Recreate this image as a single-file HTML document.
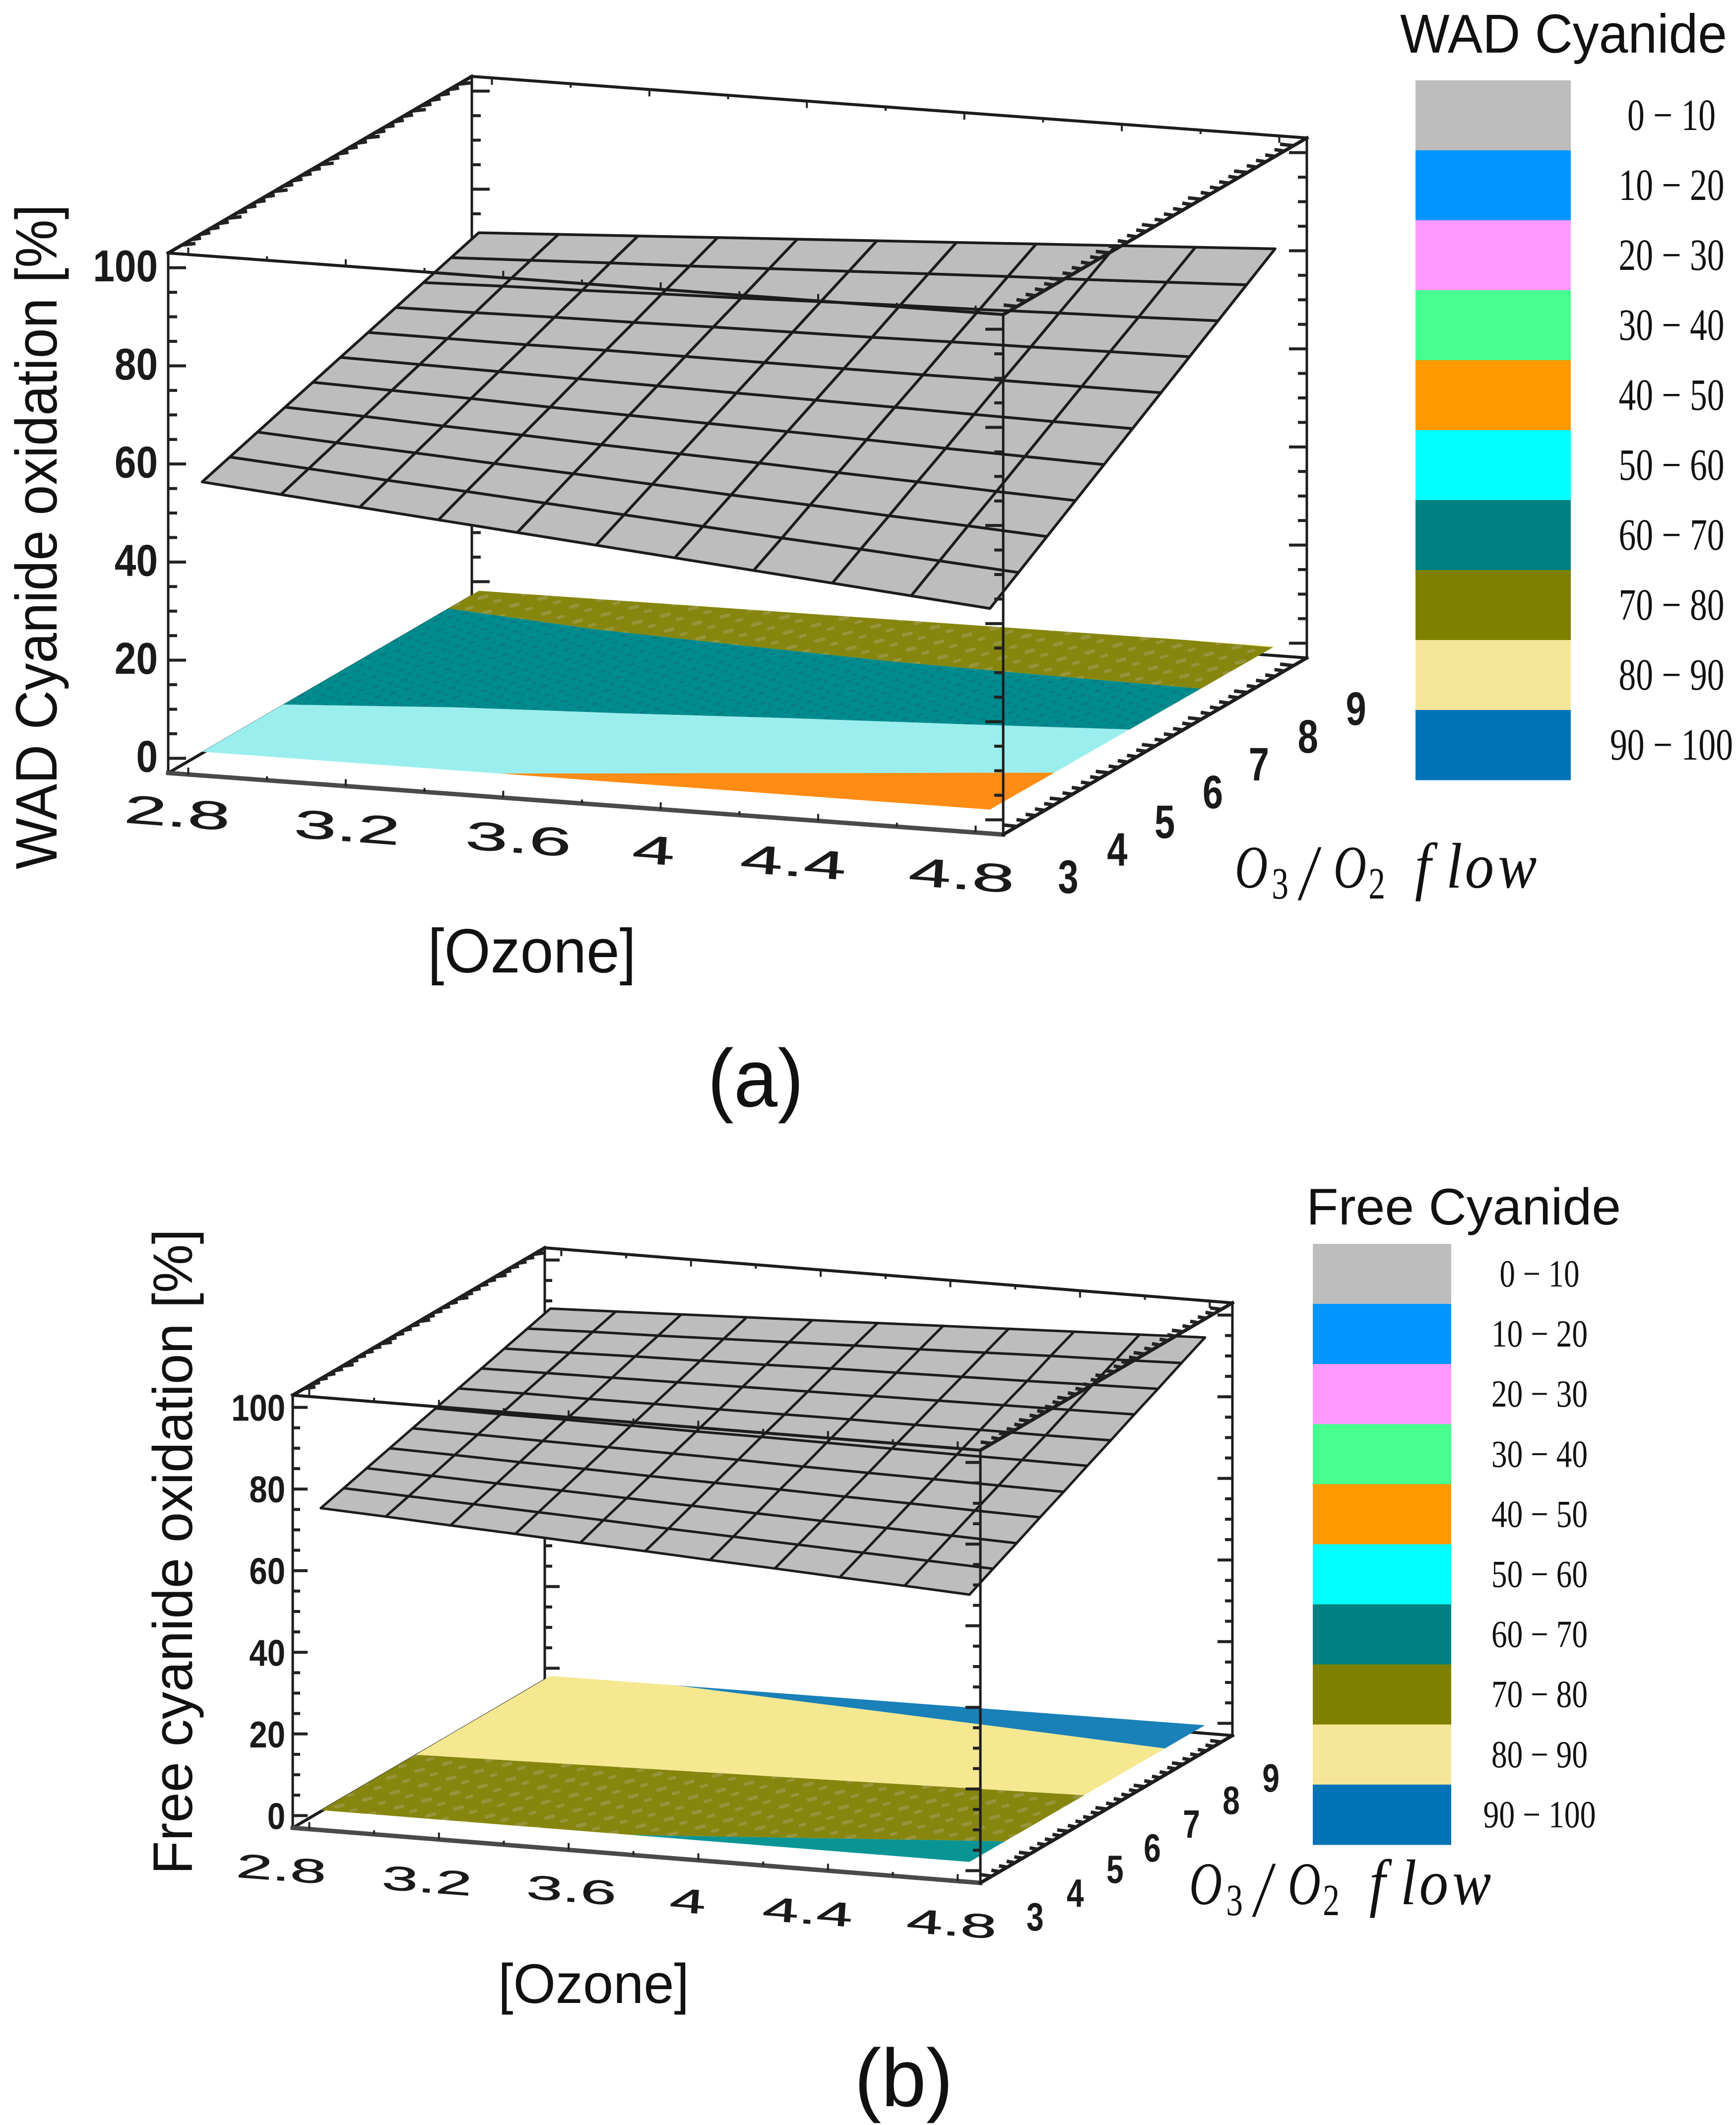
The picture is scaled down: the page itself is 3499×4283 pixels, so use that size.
<!DOCTYPE html>
<html lang="en">
<head>
<meta charset="utf-8">
<title>WAD and free cyanide oxidation surfaces</title>
<style>
html,body{margin:0;padding:0;background:#fff;}
svg{display:block;font-family:"Liberation Sans",sans-serif;}
</style>
</head>
<body>
<svg id="figure" width="3499" height="4283" viewBox="0 0 3499 4283">
  <defs>
    <pattern id="olive-tex" width="58" height="31" patternUnits="userSpaceOnUse" patternTransform="rotate(-14)">
      <rect width="58" height="31" fill="#86860f"/>
      <rect x="4" y="5" width="22" height="7" rx="3" fill="#97943c"/>
      <rect x="33" y="20" width="17" height="6" rx="3" fill="#97943c"/>
    </pattern>
    <pattern id="teal-tex" width="30" height="20" patternUnits="userSpaceOnUse" patternTransform="rotate(-14)">
      <rect width="30" height="20" fill="#008c8f"/>
      <rect x="3" y="4" width="14" height="5" rx="2" fill="#0a7c84"/>
      <rect x="18" y="14" width="9" height="4" rx="2" fill="#0a7c84"/>
    </pattern>
  </defs>
  <g id="chart-a"></g>
  <g id="chart-b"></g>

  <text transform="translate(114,1752) rotate(-90)" font-size="118" fill="#111" textLength="1340" lengthAdjust="spacingAndGlyphs">WAD Cyanide oxidation [%]</text>
  <text transform="translate(387,3778) rotate(-90)" font-size="112" fill="#111" textLength="1301" lengthAdjust="spacingAndGlyphs">Free cyanide oxidation [%]</text>

  <text x="862" y="1960" font-size="125" fill="#111" textLength="420" lengthAdjust="spacingAndGlyphs">[Ozone]</text>
  <text x="1004" y="4037" font-size="112" fill="#111" textLength="385" lengthAdjust="spacingAndGlyphs">[Ozone]</text>

  <g font-family="'Liberation Serif',serif" font-style="italic" fill="#111">
    <text transform="translate(2489,1789) scale(.75,1)" font-size="122"><tspan x="0">O</tspan><tspan x="99" dy="22" font-size="90" font-style="normal">3</tspan><tspan x="176" dy="2" font-size="160">/</tspan><tspan x="265" dy="-24">O</tspan><tspan x="359" dy="22" font-size="90" font-style="normal">2</tspan></text>
    <text transform="translate(2841,1789) scale(.9,1)" font-size="130"><tspan x="12">f</tspan><tspan x="82">l</tspan><tspan x="124">o</tspan><tspan x="198">w</tspan></text>
  </g>
  <g font-family="'Liberation Serif',serif" font-style="italic" fill="#111">
    <text transform="translate(2397,3838) scale(.75,1)" font-size="122"><tspan x="0">O</tspan><tspan x="99" dy="22" font-size="90" font-style="normal">3</tspan><tspan x="176" dy="2" font-size="160">/</tspan><tspan x="265" dy="-24">O</tspan><tspan x="359" dy="22" font-size="90" font-style="normal">2</tspan></text>
    <text transform="translate(2749,3838) scale(.9,1)" font-size="130"><tspan x="12">f</tspan><tspan x="82">l</tspan><tspan x="124">o</tspan><tspan x="198">w</tspan></text>
  </g>

  <text x="1426" y="2230" font-size="165" fill="#111" textLength="194" lengthAdjust="spacingAndGlyphs">(a)</text>
  <text x="1722" y="4245" font-size="165" fill="#111" textLength="199" lengthAdjust="spacingAndGlyphs">(b)</text>

  <text x="2822" y="106" font-size="110" fill="#111" textLength="659" lengthAdjust="spacingAndGlyphs">WAD Cyanide</text>
  <text x="2633" y="2468" font-size="104" fill="#111" textLength="634" lengthAdjust="spacingAndGlyphs">Free Cyanide</text>
  <g id="legend-a"></g>
  <g id="legend-b"></g>
</svg>

<script>
// ---------- shared axis values ----------
const ozoneTicks = [2.8, 3.2, 3.6, 4, 4.4, 4.8];
const flowTicks = [3, 4, 5, 6, 7, 8, 9];
const zTicks = [0, 20, 40, 60, 80, 100];
const ozoneGrid = [2.8, 3.0, 3.2, 3.4, 3.6, 3.8, 4.0, 4.2, 4.4, 4.6, 4.8];
const flowGrid = [3, 3.6, 4.2, 4.8, 5.4, 6, 6.6, 7.2, 7.8, 8.4, 9];
const legendLabels = ['0 \u2212 10', '10 \u2212 20', '20 \u2212 30', '30 \u2212 40', '40 \u2212 50', '50 \u2212 60', '60 \u2212 70', '70 \u2212 80', '80 \u2212 90', '90 \u2212 100'];
const legendColors = ['#bdbdbd', '#0095ff', '#ff99ff', '#47ff8f', '#ff9900', '#00ffff', '#008080', '#808000', '#f5e69a', '#0073b7'];

// ---------- WAD cyanide surface: oxidation % per flow row (rows) and ozone column ----------
const wadSurface = [
  [55, 53.6, 52.2, 50.8, 49.4, 48, 46.6, 45.2, 43.8, 42.4, 41],
  [56.8, 55.6, 54.4, 53.3, 52.1, 50.9, 49.7, 48.5, 47.4, 46.2, 45],
  [58.6, 57.6, 56.7, 55.7, 54.8, 53.8, 52.8, 51.9, 50.9, 50, 49],
  [60.4, 59.7, 58.9, 58.2, 57.4, 56.7, 56, 55.2, 54.5, 53.7, 53],
  [62.2, 61.7, 61.2, 60.6, 60.1, 59.6, 59.1, 58.6, 58, 57.5, 57],
  [64, 63.7, 63.4, 63.1, 62.8, 62.5, 62.2, 61.9, 61.6, 61.3, 61],
  [65.8, 65.7, 65.6, 65.6, 65.5, 65.4, 65.3, 65.2, 65.2, 65.1, 65],
  [67.6, 67.7, 67.9, 68, 68.2, 68.3, 68.4, 68.6, 68.7, 68.9, 69],
  [69.4, 69.8, 70.1, 70.5, 70.8, 71.2, 71.6, 71.9, 72.3, 72.6, 73],
  [71.2, 71.8, 72.4, 72.9, 73.5, 74.1, 74.7, 75.3, 75.8, 76.4, 77],
  [73, 73.8, 74.6, 75.4, 76.2, 77, 77.8, 78.6, 79.4, 80.2, 81]
];
// WAD contour floor: flow value of each band's upper limit at each ozone tick
const wadOrangeTop = [2.17, 2.6, 3.05, 3.49, 3.92, 4.36];
const wadCyanTop = [4.76, 5.08, 5.28, 5.52, 5.72, 5.94];
const wadTealTop = [8.34, 8.0, 7.8, 7.62, 7.52, 7.44];
const wadOliveTop = [9.3, 9.2, 9.15, 9.1, 9.03, 8.96];
const wadPaleTop = [9.4, 9.4, 9.4, 9.4, 9.4, 9.4];

// ---------- Free cyanide surface ----------
const freeSurface = [
  [74, 73.2, 72.3, 71.5, 70.6, 69.8, 68.9, 68.1, 67.2, 66.4, 65.5],
  [75.6, 74.9, 74.2, 73.5, 72.8, 72, 71.3, 70.6, 69.9, 69.2, 68.5],
  [77.2, 76.6, 76, 75.5, 74.9, 74.3, 73.7, 73.1, 72.6, 72, 71.4],
  [78.8, 78.4, 77.9, 77.5, 77, 76.6, 76.2, 75.7, 75.3, 74.8, 74.4],
  [80.4, 80.1, 79.8, 79.5, 79.2, 78.9, 78.5, 78.2, 77.9, 77.6, 77.3],
  [82, 81.8, 81.7, 81.5, 81.3, 81.2, 81, 80.8, 80.6, 80.5, 80.3],
  [83.6, 83.6, 83.5, 83.5, 83.4, 83.4, 83.4, 83.3, 83.3, 83.2, 83.2],
  [85.2, 85.3, 85.4, 85.5, 85.6, 85.7, 85.8, 85.9, 86, 86.1, 86.2],
  [86.8, 87, 87.3, 87.5, 87.7, 88, 88.2, 88.4, 88.6, 88.9, 89.1],
  [88.4, 88.8, 89.1, 89.5, 89.9, 90.3, 90.6, 91, 91.4, 91.7, 92.1],
  [90, 90.5, 91, 91.5, 92, 92.5, 93, 93.5, 94, 94.5, 95]
];
const freeTealTop = [2.18, 2.52, 2.87, 3.21, 3.56, 3.91];
const freeOliveTop = [5.48, 5.57, 5.66, 5.75, 5.84, 5.93];
const freeYellowTop = [9.24, 8.99, 8.74, 8.49, 8.24, 7.98];
const freeBlueTop = [9.4, 9.4, 9.4, 9.4, 9.4, 9.4];

// ---------- axis ranges of the plotted box ----------
const ozoneMin = 2.749, ozoneMax = 4.87;
const flowMin = 2.699, flowMax = 9.29;
const zMin = -3, zMax = 103;

const SVG_NS = 'http://www.w3.org/2000/svg';
function mk(parent, tag, attrs, text) {
  const el = document.createElementNS(SVG_NS, tag);
  for (const k in attrs) el.setAttribute(k, attrs[k]);
  if (text !== undefined) el.textContent = text;
  parent.appendChild(el);
  return el;
}

function drawChart(root, geo, surface, bands) {
  // axis function: data coordinates to page pixels
  const project = (oz, fl, z) => {
    const a = (oz - ozoneMin) / (ozoneMax - ozoneMin);
    const b = (fl - flowMin) / (flowMax - flowMin);
    const c = (z - zMin) / (zMax - zMin);
    return [geo.x0 + a * geo.xv[0] + b * geo.yv[0], geo.y0 + a * geo.xv[1] + b * geo.yv[1] - c * geo.h];
  };
  // data marks follow the same axes, with the slight perspective pull seen at the far corner
  const plot = (oz, fl, z) => {
    const p = project(oz, fl, z);
    const a = (oz - ozoneMin) / (ozoneMax - ozoneMin);
    const b = (fl - flowMin) / (flowMax - flowMin);
    return [p[0] + geo.pull[0] * a * b, p[1] + geo.pull[1] * a * b];
  };
  const pts = list => list.map(p => p[0].toFixed(1) + ',' + p[1].toFixed(1)).join(' ');
  const edge = (parent, p, q, w, col) => {
    const l = mk(parent, 'line', {x1: p[0], y1: p[1], x2: q[0], y2: q[1], stroke: col || '#1c1c1c', 'stroke-width': w, 'stroke-linecap': 'square'});
    
    
    return l;
  };
  const tick = (parent, p, dx, dy, w) => {
    const l = mk(parent, 'line', {x1: p[0], y1: p[1], x2: p[0] + dx, y2: p[1] + dy, stroke: '#222', 'stroke-width': w});
    
    
  };
  const zTickSet = (parent, oz, fl, dir) => {
    for (let z = 0; z <= 100; z += 5) {
      const major = z % 20 === 0;
      tick(parent, project(oz, fl, z), dir * (major ? geo.tick : geo.tick * .5), 0, 6);
    }
  };
  const flowTickSet = (parent, oz, z, dir) => {
    for (let i = 0; i <= 30; i++) {
      const f = 3 + i * .2;
      const major = i % 5 === 0;
      tick(parent, project(oz, f, z), dir * (major ? geo.tick * .75 : geo.tick * .55), -3, 7);
    }
  };
  const ozoneTickSet = (parent, fl, z, dir) => {
    for (let i = 0; i <= 20; i += 2) {
      const o = 2.8 + i * .1;
      tick(parent, project(o, fl, z), 0, dir * (i % 4 === 0 ? 14 : 8), 4);
    }
  };

  const back = mk(root, 'g', {});
  
  
  edge(back, project(ozoneMin, flowMax, zMin), project(ozoneMin, flowMax, zMax), 5);
  edge(back, project(ozoneMin, flowMin, zMax), project(ozoneMin, flowMax, zMax), 7);
  edge(back, project(ozoneMin, flowMax, zMax), project(ozoneMax, flowMax, zMax), 6);
  edge(back, project(ozoneMax, flowMax, zMin), project(ozoneMax, flowMax, zMax), 5);
  edge(back, project(ozoneMin, flowMin, zMin), project(ozoneMin, flowMax, zMin), 6);
  edge(back, project(ozoneMin, flowMax, zMin), project(ozoneMax, flowMax, zMin), 6);
  zTickSet(back, ozoneMin, flowMax, 1);
  zTickSet(back, ozoneMax, flowMax, -1);
  flowTickSet(back, ozoneMin, zMax, 1);
  ozoneTickSet(back, flowMax, zMax, 1);

  // contour floor
  const floor = mk(root, 'g', {});
  
  
  const clip = mk(floor, 'clipPath', {id: geo.id + '-floor-clip'});
  mk(clip, 'polygon', {points: pts([plot(2.8, 3, 0), plot(4.8, 3, 0), plot(4.8, 9, 0), plot(2.8, 9, 0)])});
  const bandGroup = mk(floor, 'g', {'clip-path': 'url(#' + geo.id + '-floor-clip)'});
  let lower = ozoneTicks.map(() => flowMin);
  bands.forEach(band => {
    const outline = [];
    ozoneTicks.forEach((o, i) => outline.push(plot(o, lower[i], 0)));
    for (let i = ozoneTicks.length - 1; i >= 0; i--) outline.push(plot(ozoneTicks[i], band.top[i], 0));
    const poly = mk(bandGroup, 'polygon', {points: pts(outline), fill: band.fill});
    
    
    lower = band.top;
  });

  // mesh surface
  const mesh = mk(root, 'g', {});
  
  
  for (let r = 0; r < flowGrid.length - 1; r++) {
    for (let c = 0; c < ozoneGrid.length - 1; c++) {
      const cell = mk(mesh, 'polygon', {
        points: pts([
          plot(ozoneGrid[c], flowGrid[r], surface[r][c]),
          plot(ozoneGrid[c + 1], flowGrid[r], surface[r][c + 1]),
          plot(ozoneGrid[c + 1], flowGrid[r + 1], surface[r + 1][c + 1]),
          plot(ozoneGrid[c], flowGrid[r + 1], surface[r + 1][c])
        ]),
        fill: '#bdbdbd', stroke: '#1c1c1c', 'stroke-width': geo.mesh, 'stroke-linejoin': 'round'
      });
      
      
    }
  }

  // front edges
  const front = mk(root, 'g', {});
  
  
  edge(front, project(ozoneMin, flowMin, zMin), project(ozoneMin, flowMin, zMax), 5);
  edge(front, project(ozoneMax, flowMin, zMin), project(ozoneMax, flowMin, zMax), 5);
  edge(front, project(ozoneMin, flowMin, zMax), project(ozoneMax, flowMin, zMax), 6);
  edge(front, project(ozoneMin, flowMin, zMin), project(ozoneMax, flowMin, zMin), 9, '#4a4a4a');
  edge(front, project(ozoneMax, flowMin, zMax), project(ozoneMax, flowMax, zMax), 7);
  edge(front, project(ozoneMax, flowMin, zMin), project(ozoneMax, flowMax, zMin), 7);
  zTickSet(front, ozoneMin, flowMin, 1);
  zTickSet(front, ozoneMax, flowMin, -1);
  flowTickSet(front, ozoneMax, zMax, -1);
  flowTickSet(front, ozoneMax, zMin, -1);
  ozoneTickSet(front, flowMin, zMax, -1);
  ozoneTickSet(front, flowMin, zMin, -1);

  // tick labels
  zTicks.forEach(z => {
    const p = project(ozoneMin, flowMin, z);
    const t = mk(root, 'text', {
      transform: 'translate(' + (p[0] + geo.zLabelDx) + ',' + (p[1] + geo.zLabelDy) + ') scale(.87,1)',
      'text-anchor': 'end', dy: '.36em', 'font-size': geo.zFont, 'font-weight': 'bold', fill: '#1a1a1a'
    }, String(z));
    
    
  });
  ozoneTicks.forEach((o, i) => {
    const p = project(o, flowMin, zMin);
    const t = mk(root, 'text', {
      transform: 'translate(' + (p[0] + geo.ozoneNudgeX[i]) + ',' + (p[1] + geo.ozoneNudgeY[i]) + ') rotate(4.3) scale(1.92,1)',
      'text-anchor': 'middle', dy: '.36em', 'font-size': geo.ozoneFont, fill: '#1a1a1a', stroke: '#1a1a1a', 'stroke-width': .8
    }, String(o));
    
    
  });
  flowTicks.forEach((f, i) => {
    const p = project(ozoneMax, f, zMin);
    const t = mk(root, 'text', {
      transform: 'translate(' + (p[0] + geo.flowNudgeX[i]) + ',' + (p[1] + geo.flowNudgeY[i]) + ') scale(.78,1)',
      'text-anchor': 'middle', dy: '.36em', 'font-size': geo.flowFont, 'font-weight': 'bold', fill: '#1a1a1a'
    }, String(f));
    
    
  });
}

function drawLegend(root, cfg) {
  legendLabels.forEach((label, i) => {
    const rect = mk(root, 'rect', {x: cfg.x, y: cfg.y + i * cfg.step, width: cfg.w, height: cfg.step + .5, fill: legendColors[i]});
    
    
    const len = i === 0 ? cfg.len0 : (i === 9 ? cfg.len9 : cfg.len);
    const t = mk(root, 'text', {
      x: cfg.tx, y: cfg.y + (i + .5) * cfg.step, dy: '.33em', 'text-anchor': 'middle',
      'font-family': "'Liberation Serif',serif", 'font-size': cfg.font, fill: '#111',
      textLength: len, lengthAdjust: 'spacingAndGlyphs'
    }, label);
    
    
  });
}

drawChart(document.getElementById('chart-a'), {
  id: 'a', x0: 339, y0: 1558, xv: [1683, 124], yv: [612, -356], h: 1048, pull: [20, -6],
  tick: 36, mesh: 5.5, zLabelDx: -21, zLabelDy: -5, zFont: 90, ozoneFont: 80, flowFont: 95,
  ozoneNudgeX: [-22, 3, 31, -14, -50, -28], ozoneNudgeY: [76, 82, 82, 81, 82, 85],
  flowNudgeX: [103, 109, 112, 116, 116, 122, 126], flowNudgeY: [100, 99, 97, 91, 89, 87, 85]
}, wadSurface, [
  {name: 'floor-band-40-50', top: wadOrangeTop, fill: '#ff8c14'},
  {name: 'floor-band-50-60', top: wadCyanTop, fill: '#9beeee'},
  {name: 'floor-band-60-70', top: wadTealTop, fill: 'url(#teal-tex)'},
  {name: 'floor-band-70-80', top: wadOliveTop, fill: 'url(#olive-tex)'},
  {name: 'floor-band-80-90', top: wadPaleTop, fill: '#f5eda0'}
]);

drawChart(document.getElementById('chart-b'), {
  id: 'b', x0: 590, y0: 3684, xv: [1386, 111], yv: [508, -297], h: 872, pull: [14, -6],
  tick: 30, mesh: 5, zLabelDx: -15, zLabelDy: 0, zFont: 75, ozoneFont: 68, flowFont: 80,
  ozoneNudgeX: [-56, -24, 6, -21, -41, -12], ozoneNudgeY: [79, 82, 80, 81, 82, 85],
  flowNudgeX: [87, 91, 94, 92, 94, 97, 100], flowNudgeY: [81, 78, 75, 77, 74, 71, 71]
}, freeSurface, [
  {name: 'floor-band-60-70', top: freeTealTop, fill: '#0a9595'},
  {name: 'floor-band-70-80', top: freeOliveTop, fill: 'url(#olive-tex)'},
  {name: 'floor-band-80-90', top: freeYellowTop, fill: '#f5e890'},
  {name: 'floor-band-90-100', top: freeBlueTop, fill: '#1a80b8'}
]);

drawLegend(document.getElementById('legend-a'), {x: 2853, y: 162, w: 313, step: 141, tx: 3369, font: 90, len0: 178, len: 213, len9: 248});
drawLegend(document.getElementById('legend-b'), {x: 2646, y: 2507, w: 279, step: 121.1, tx: 3103, font: 77, len0: 161, len: 194, len9: 227});
</script>
</body>
</html>
